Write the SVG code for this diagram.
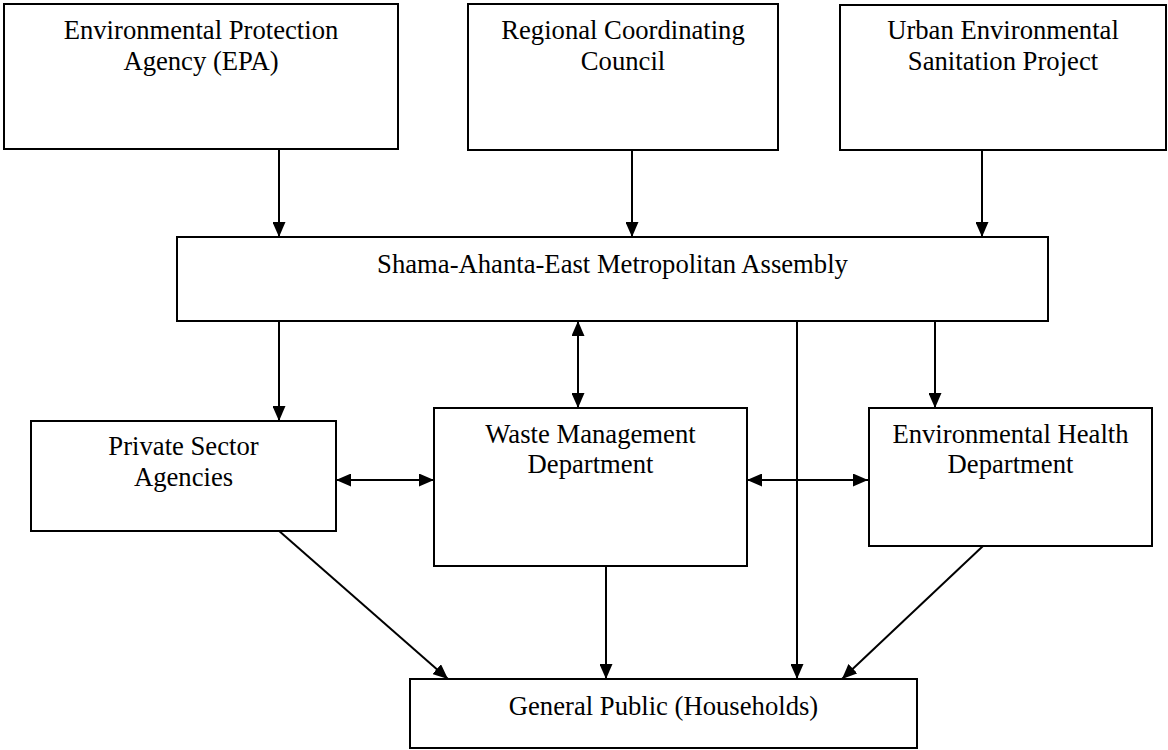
<svg xmlns="http://www.w3.org/2000/svg" width="1168" height="750" viewBox="0 0 1168 750">
  <defs>
    <style>
      .box { fill: #ffffff; stroke: #000000; stroke-width: 2; }
      .lbl { font-family: "Liberation Serif", "Times New Roman", serif; font-size: 26.67px; fill: #000000; text-anchor: middle; }
      .con { stroke: #000000; stroke-width: 2; fill: none; }
      .arr { marker-end: url(#ah); }
      .dbl { marker-start: url(#ah); marker-end: url(#ah); }
    </style>
    <marker id="ah" viewBox="0 0 15 13" refX="15" refY="6.5" markerWidth="15" markerHeight="13" markerUnits="userSpaceOnUse" orient="auto-start-reverse">
      <path d="M0,0 L15,6.5 L0,13 z" fill="#000000"/>
    </marker>
  </defs>
  <rect width="1168" height="750" fill="#ffffff"/>

  <g id="connectors">
    <line class="con arr" x1="279" y1="149" x2="279" y2="237"/>
    <line class="con arr" x1="632" y1="150" x2="632" y2="237"/>
    <line class="con arr" x1="982" y1="150" x2="982" y2="237"/>
    <line class="con arr" x1="279" y1="321" x2="279" y2="421"/>
    <line class="con dbl" x1="578" y1="321" x2="578" y2="408"/>
    <line class="con arr" x1="797" y1="321" x2="797" y2="679"/>
    <line class="con arr" x1="935" y1="321" x2="935" y2="408"/>
    <line class="con dbl" x1="336" y1="480" x2="434" y2="480"/>
    <line class="con dbl" x1="747" y1="480" x2="868" y2="480"/>
    <line class="con arr" x1="278" y1="530" x2="448" y2="679"/>
    <line class="con arr" x1="606" y1="566" x2="606" y2="679"/>
    <line class="con arr" x1="983" y1="546" x2="842" y2="679"/>
  </g>

  <g id="epa">
    <rect class="box" x="4" y="4" width="394" height="145"/>
    <text class="lbl" x="201" y="39">Environmental Protection</text>
    <text class="lbl" x="201" y="70">Agency (EPA)</text>
  </g>
  <g id="rcc">
    <rect class="box" x="468" y="4" width="310" height="146"/>
    <text class="lbl" x="623" y="39">Regional Coordinating</text>
    <text class="lbl" x="623" y="70">Council</text>
  </g>
  <g id="uesp">
    <rect class="box" x="840" y="5" width="326" height="145"/>
    <text class="lbl" x="1003" y="39">Urban Environmental</text>
    <text class="lbl" x="1003" y="70">Sanitation Project</text>
  </g>
  <g id="saema">
    <rect class="box" x="177" y="237" width="871" height="84"/>
    <text class="lbl" x="612.5" y="273">Shama-Ahanta-East Metropolitan Assembly</text>
  </g>
  <g id="private">
    <rect class="box" x="31" y="421" width="305" height="110"/>
    <text class="lbl" x="183.5" y="455">Private Sector</text>
    <text class="lbl" x="183.5" y="486">Agencies</text>
  </g>
  <g id="wmd">
    <rect class="box" x="434" y="408" width="313" height="158"/>
    <text class="lbl" x="590.5" y="443">Waste Management</text>
    <text class="lbl" x="590.5" y="473">Department</text>
  </g>
  <g id="ehd">
    <rect class="box" x="869" y="408" width="283" height="138"/>
    <text class="lbl" x="1010.5" y="443">Environmental Health</text>
    <text class="lbl" x="1010.5" y="473">Department</text>
  </g>
  <g id="public">
    <rect class="box" x="410" y="679" width="507" height="69"/>
    <text class="lbl" x="663.5" y="715">General Public (Households)</text>
  </g>
</svg>
